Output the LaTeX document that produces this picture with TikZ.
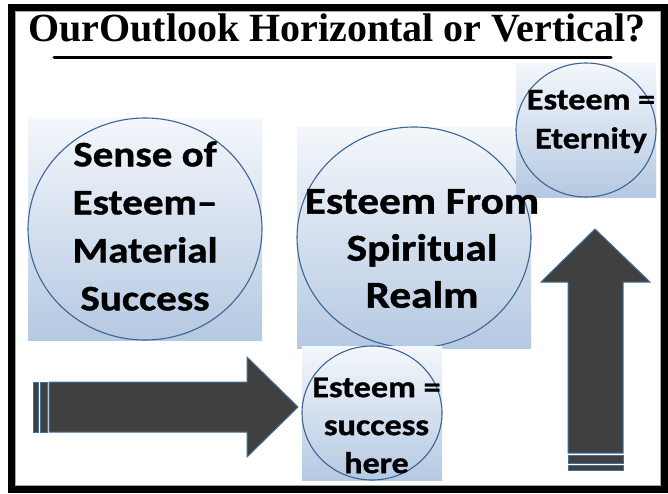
\documentclass[tikz,border=0pt]{standalone}
\usepackage{fontspec}
\setmainfont{Liberation Serif}
\newfontfamily\calibri[FakeStretch=1.14,BoldFeatures={FakeBold=1}]{Carlito}
\definecolor{boxtop}{HTML}{F4F7FB}
\definecolor{boxbot}{HTML}{B5C9E2}
\definecolor{ringblue}{HTML}{3C6496}
\definecolor{arrowfill}{HTML}{404040}
\definecolor{arrowline}{HTML}{41719C}

\begin{document}
\begin{tikzpicture}[x=1pt,y=-1pt,
   panel/.style={inner sep=0pt,top color=boxtop,bottom color=boxbot},
   ring/.style={draw=ringblue,line width=1.1pt},
   btext/.style 2 args={align=center,inner sep=0pt,font=\calibri\bfseries\fontsize{#1}{#2}\selectfont},
   fatarrow/.style={fill=arrowfill,draw=arrowline,line width=1pt,line join=miter},
   ]
   \useasboundingbox (0,0) rectangle (668,493);
   \fill[white] (0,0) rectangle (668,493);
   % frame
   \draw[line width=7pt] (11.5,7.5) rectangle (664.5,489.5);
   \draw[gray!70,line width=0.8pt] (15.5,11.5) rectangle (660.5,485.5);

   % heading
   \node[anchor=base,inner sep=0pt,font=\bfseries\fontsize{40}{44}\selectfont] (title) at (337,41) {OurOutlook Horizontal or Vertical?};
   \coordinate (ulL) at (54,57);
   \coordinate (ulR) at (611,57);
   \draw[line width=3pt,line cap=round] (ulL) -- (ulR);

   % bubbles (panels first, words on top)
   \node[panel,minimum width=234pt,minimum height=222pt] (b1) at (145,229) {};
   \draw[ring] (b1.center) ellipse [x radius=117,y radius=111];

   \node[panel,minimum width=234pt,minimum height=221pt] (b2) at (414,237.5) {};
   \draw[ring] (b2.center) ellipse [x radius=117,y radius=110.5];

   \node[panel,minimum width=140pt,minimum height=134pt] (b3) at (586,130) {};
   \draw[ring] (b3.center) ellipse [x radius=70,y radius=67];

   \node[panel,minimum width=140pt,minimum height=134pt] (b4) at (372,413) {};
   \draw[ring] (b4.center) ellipse [x radius=70,y radius=67];

   \node[btext={36}{48}] (t1) at (145,226) {Sense of\\Esteem–\\Material\\Success};
   \node[btext={38}{47}] (t2) at (422,248.5) {Esteem From\\Spiritual\\Realm};
   \node[btext={30}{39}] (t3) at (591,121.5) {Esteem =\\Eternity};
   \node[btext={30}{38}] (t4) at (376.5,425.5) {Esteem =\\success\\here};

   % horizontal arrow
   \draw[fatarrow] (49,382) -- (247,382) -- (247,357) -- (298,407) -- (247,457) -- (247,432) -- (49,432) -- cycle;
   \draw[fatarrow] (33,382) rectangle (38,432);
   \draw[fatarrow] (40,382) rectangle (47,432);

   % vertical arrow
   \draw[fatarrow] (595,229) -- (650,282) -- (623,282) -- (623,453) -- (568,453) -- (568,282) -- (541,282) -- cycle;
   \draw[fatarrow] (568,455) rectangle (623,463);
   \draw[fatarrow] (568,465) rectangle (623,470);
\end{tikzpicture}
\end{document}
